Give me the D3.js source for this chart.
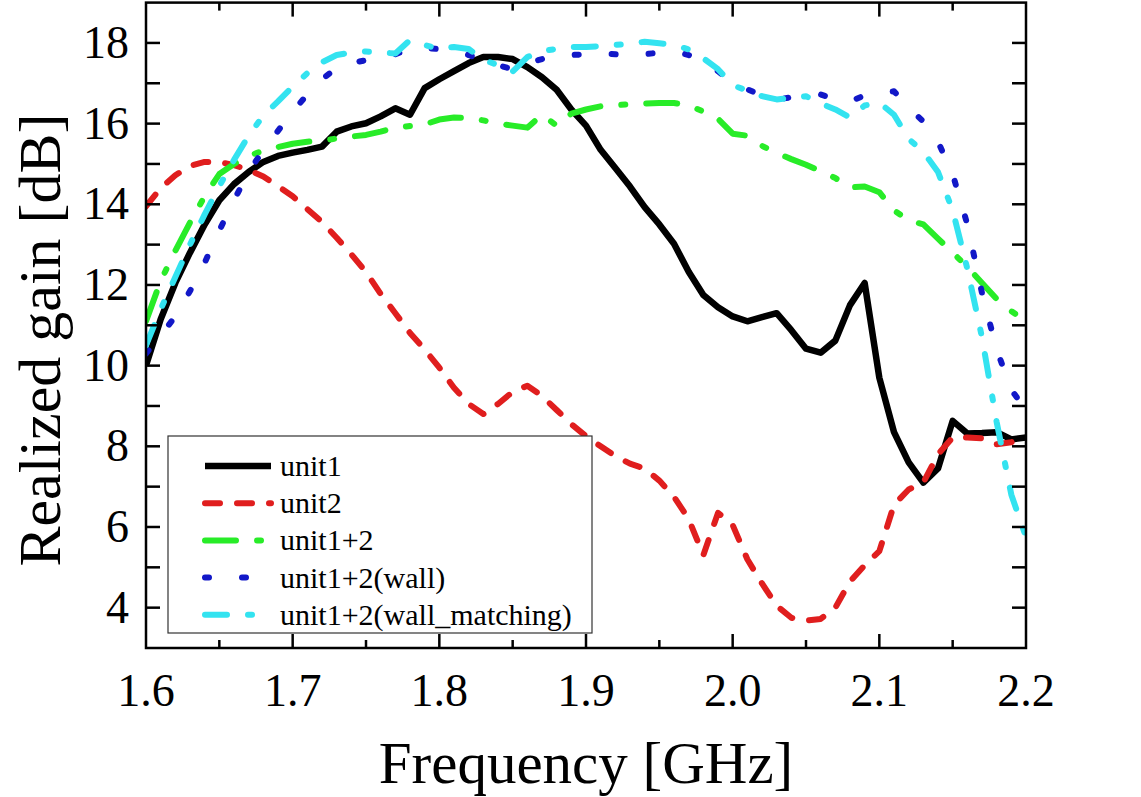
<!DOCTYPE html>
<html>
<head>
<meta charset="utf-8">
<script src="https://cdn.jsdelivr.net/npm/d3@7"></script>
<style>
  html, body { margin: 0; padding: 0; background: #fff; }
  svg { display: block; }
</style>
</head>
<body>
<svg id="chart" width="1141" height="797"></svg>
<script>
// ---------- data ----------
const freq = [1.60,1.61,1.62,1.63,1.64,1.65,1.66,1.67,1.68,1.69,
              1.70,1.71,1.72,1.73,1.74,1.75,1.76,1.77,1.78,1.79,
              1.80,1.81,1.82,1.83,1.84,1.85,1.86,1.87,1.88,1.89,
              1.90,1.91,1.92,1.93,1.94,1.95,1.96,1.97,1.98,1.99,
              2.00,2.01,2.02,2.03,2.04,2.05,2.06,2.07,2.08,2.09,
              2.10,2.11,2.12,2.13,2.14,2.15,2.16,2.17,2.18,2.19,2.20];

const unit1 = [10.0,11.15,12.05,12.8,13.5,14.1,14.5,14.8,15.05,15.2,
               15.28,15.35,15.43,15.8,15.93,16.01,16.18,16.38,16.22,16.88,
               17.1,17.3,17.5,17.65,17.65,17.6,17.4,17.15,16.84,16.35,
               15.95,15.35,14.9,14.44,13.93,13.5,13.02,12.33,11.75,11.45,
               11.22,11.1,11.2,11.3,10.88,10.42,10.32,10.62,11.5,12.05,
               9.7,8.35,7.6,7.1,7.45,8.63,8.32,8.33,8.35,8.17,8.22];

const unit2 = [13.95,14.4,14.72,14.95,15.05,15.05,14.97,14.85,14.69,14.45,
               14.2,13.88,13.56,13.17,12.76,12.32,11.78,11.3,10.81,10.4,
               9.95,9.45,9.05,8.8,9.05,9.35,9.5,9.25,8.9,8.55,
               8.25,8.0,7.76,7.57,7.45,7.15,6.75,6.2,5.3,6.35,
               6.05,5.2,4.6,4.05,3.75,3.68,3.72,4.0,4.65,5.05,
               5.4,6.55,6.93,7.1,7.8,8.22,8.22,8.2,8.05,8.1,8.22];

const unit12 = [11.1,12.1,12.85,13.55,14.2,14.75,15.0,15.2,15.33,15.42,
                15.5,15.55,15.58,15.63,15.68,15.72,15.8,15.9,15.94,15.98,
                16.1,16.15,16.14,16.08,16.0,15.95,15.9,16.22,15.95,16.25,
                16.35,16.43,16.46,16.48,16.5,16.51,16.51,16.45,16.3,16.12,
                15.75,15.7,15.45,15.27,15.12,14.98,14.82,14.65,14.42,14.44,
                14.3,13.85,13.6,13.5,13.15,12.8,12.45,12.05,11.65,11.35,11.1];

const unit12wall = [10.3,10.75,11.22,11.85,12.55,13.35,14.1,14.8,15.35,15.82,
                    16.3,16.72,17.1,17.38,17.5,17.57,17.62,17.72,17.85,17.87,
                    17.85,17.8,17.7,17.57,17.45,17.35,17.5,17.6,17.65,17.7,
                    17.72,17.74,17.72,17.7,17.72,17.76,17.79,17.7,17.55,17.3,
                    17.0,16.85,16.7,16.6,16.65,16.7,16.72,16.6,16.55,16.7,
                    16.75,16.8,16.4,16.05,15.55,14.75,13.5,11.8,10.4,9.4,8.9];

const unit12wallMatch = [10.5,11.4,12.2,13.0,13.75,14.45,15.1,15.7,16.2,16.55,
                         16.92,17.25,17.52,17.7,17.76,17.79,17.76,17.74,18.07,17.95,
                         17.85,17.9,17.85,17.58,17.45,17.29,17.65,17.8,17.85,17.9,
                         17.9,17.92,17.95,17.98,18.03,17.99,17.95,17.84,17.62,17.35,
                         16.95,16.82,16.68,16.6,16.64,16.68,16.5,16.35,16.15,16.45,
                         16.52,16.22,15.62,15.3,14.8,13.85,12.4,10.7,8.6,6.8,5.75];

const seriesNames = ["unit1", "unit2", "unit1+2", "unit1+2(wall)", "unit1+2(wall_matching)"];
const xTickLabels = ["1.6","1.7","1.8","1.9","2.0","2.1","2.2"];
const yTickLabels = ["4","6","8","10","12","14","16","18"];
const xTitle = "Frequency [GHz]";
const yTitle = "Realized gain [dB]";

// ---------- styles ----------
const FONT = "Liberation Serif";
const styles = [
  { color: "#000000", width: 6.5, dash: null, cap: "butt" },
  { color: "#e01e1e", width: 6,   dash: "15,17", cap: "round" },
  { color: "#28ec28", width: 6,   dash: "31,21,4,21", cap: "round" },
  { color: "#1218c8", width: 6,   dash: "4,33", cap: "round" },
  { color: "#33e3f0", width: 6,   dash: "22,21,4,21", cap: "round" }
];
const allSeries = [unit1, unit2, unit12, unit12wall, unit12wallMatch];

// ---------- layout ----------
const L = 146, R = 1026, T = 2.6, B = 648;
const svg = d3.select("#chart");
const x = d3.scaleLinear().domain([1.6, 2.2]).range([L, R]);
const y = d3.scaleLinear().domain([3, 19]).range([B, T]);

svg.append("defs").append("clipPath").attr("id", "clip")
  .append("rect").attr("x", L).attr("y", T).attr("width", R - L).attr("height", B - T);

// lines
const line = d3.line().x((d, i) => x(freq[i])).y(d => y(d));
const lines = svg.append("g").attr("clip-path", "url(#clip)");
allSeries.forEach((s, k) => {
  const st = styles[k];
  lines.append("path")
    .attr("d", line(s))
    .attr("fill", "none")
    .attr("stroke", st.color)
    .attr("stroke-width", st.width)
    .attr("stroke-linejoin", "round")
    .attr("stroke-linecap", st.cap)
    .attr("stroke-dasharray", st.dash);
});

// frame
svg.append("rect").attr("x", L).attr("y", T).attr("width", R - L).attr("height", B - T)
  .attr("fill", "none").attr("stroke", "#000").attr("stroke-width", 2.5);

// ticks (inward, mirrored)
const xTicks = d3.range(0, 13).map(i => 1.6 + i * 0.05);
const yTicks = d3.range(4, 19);
const tg = svg.append("g").attr("stroke", "#000").attr("stroke-width", 2.5);
xTicks.forEach((v, i) => {
  const len = (i % 2 === 0) ? 14 : 8;
  if (i === 0 || i === 12) return;
  tg.append("line").attr("x1", x(v)).attr("x2", x(v)).attr("y1", B).attr("y2", B - len);
  tg.append("line").attr("x1", x(v)).attr("x2", x(v)).attr("y1", T).attr("y2", T + len);
});
yTicks.forEach(v => {
  tg.append("line").attr("x1", L).attr("x2", L + 14).attr("y1", y(v)).attr("y2", y(v));
  tg.append("line").attr("x1", R).attr("x2", R - 14).attr("y1", y(v)).attr("y2", y(v));
});

// tick labels
const txt = svg.append("g");
xTickLabels.forEach(t => {
  txt.append("text").attr("x", x(+t)).attr("y", 706)
    .attr("font-family", FONT).attr("fill", "#000")
    .attr("text-anchor", "middle").attr("font-size", 46).text(t);
});
yTickLabels.forEach(t => {
  txt.append("text").attr("x", 129).attr("y", y(+t) + 15)
    .attr("font-family", FONT).attr("fill", "#000")
    .attr("text-anchor", "end").attr("font-size", 46).text(t);
});

// axis titles
txt.append("text").attr("x", (L + R) / 2).attr("y", 783)
  .attr("font-family", FONT).attr("fill", "#000")
  .attr("text-anchor", "middle").attr("font-size", 59).text(xTitle);
txt.append("text")
  .attr("transform", "translate(60, 340) rotate(-90)")
  .attr("font-family", FONT).attr("fill", "#000")
  .attr("text-anchor", "middle").attr("font-size", 60).text(yTitle);

// legend
const lg = svg.append("g");
lg.append("rect").attr("x", 168).attr("y", 436).attr("width", 424).attr("height", 197)
  .attr("fill", "#fff").attr("stroke", "#333").attr("stroke-width", 1.2);
seriesNames.forEach((name, k) => {
  const st = styles[k];
  const cy = 466 + k * 37.2;
  lg.append("line").attr("x1", 205).attr("x2", 271).attr("y1", cy).attr("y2", cy)
    .attr("stroke", st.color).attr("stroke-width", st.width)
    .attr("stroke-linecap", st.cap).attr("stroke-dasharray", st.dash);
  lg.append("text").attr("x", 280).attr("y", cy + 10).attr("font-size", 30)
    .attr("font-family", FONT).attr("fill", "#000").text(name);
});
</script>
</body>
</html>
